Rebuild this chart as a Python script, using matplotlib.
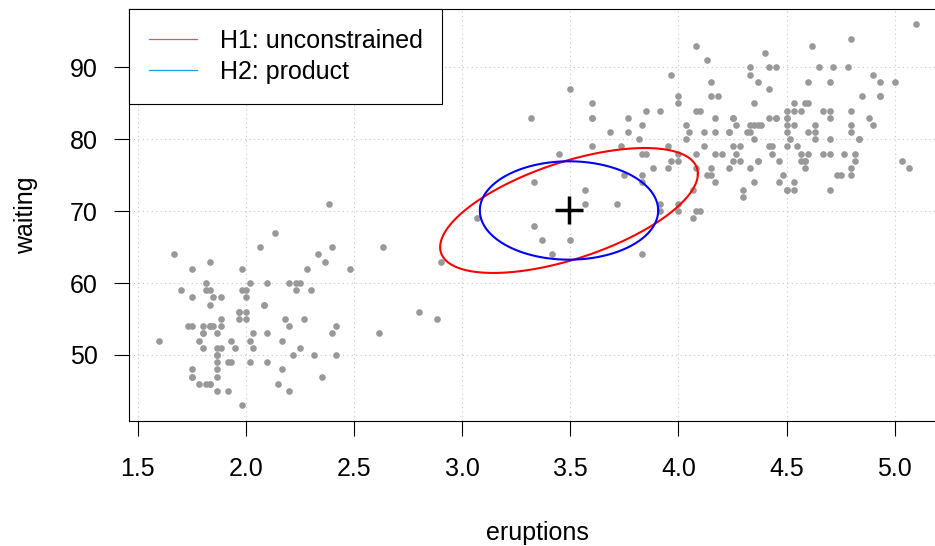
import numpy as np
import matplotlib
matplotlib.use("Agg")
import matplotlib.pyplot as plt
from matplotlib.lines import Line2D

plt.rcParams['font.family'] = ['Liberation Sans', 'DejaVu Sans']

# Old Faithful data (eruptions, waiting)
eruptions = [3.600, 1.800, 3.333, 2.283, 4.533, 2.883, 4.700, 3.600, 1.950, 4.350,
             1.833, 3.917, 4.200, 1.750, 4.700, 2.167, 1.750, 4.800, 1.600, 4.250,
             1.800, 1.750, 3.450, 3.067, 4.533, 3.600, 1.967, 4.083, 3.850, 4.433,
             4.300, 4.467, 3.367, 4.033, 3.833, 2.017, 1.867, 4.833, 1.833, 4.783,
             4.350, 1.883, 4.567, 1.750, 4.533, 3.317, 3.833, 2.100, 4.633, 2.000,
             4.800, 4.716, 1.833, 4.833, 1.733, 4.883, 3.717, 1.667, 4.567, 4.317,
             2.233, 4.500, 1.750, 4.800, 1.817, 4.400, 4.167, 4.700, 2.067, 4.700,
             4.033, 1.967, 4.500, 4.000, 1.983, 5.067, 2.017, 4.567, 3.883, 3.600,
             4.133, 4.333, 4.100, 2.633, 4.067, 4.933, 3.950, 4.517, 2.167, 4.000,
             2.200, 4.333, 1.867, 4.817, 1.833, 4.300, 4.667, 3.750, 1.867, 4.900,
             2.483, 4.367, 2.100, 4.500, 4.050, 1.867, 4.700, 1.783, 4.850, 3.683,
             4.733, 2.300, 4.900, 4.417, 1.700, 4.633, 2.317, 4.600, 1.817, 4.417,
             2.617, 4.067, 4.250, 1.967, 4.600, 3.767, 1.917, 4.500, 2.267, 4.650,
             1.867, 4.167, 2.800, 4.333, 1.833, 4.383, 1.883, 4.933, 2.033, 3.733,
             4.233, 2.233, 4.533, 4.817, 4.333, 1.983, 4.633, 2.017, 5.100, 1.800,
             5.033, 4.000, 2.400, 4.600, 3.567, 4.000, 4.500, 4.083, 1.800, 3.967,
             2.200, 4.150, 2.000, 3.833, 3.500, 4.583, 2.367, 5.000, 1.933, 4.617,
             1.917, 2.083, 4.583, 3.333, 4.167, 4.333, 4.500, 2.417, 4.000, 4.167,
             1.883, 4.583, 4.250, 3.767, 2.033, 4.433, 4.083, 1.833, 4.417, 2.183,
             4.800, 1.833, 4.800, 4.100, 3.966, 4.233, 3.500, 4.366, 2.250, 4.667,
             2.100, 4.350, 4.133, 1.867, 4.600, 1.783, 4.367, 3.850, 1.933, 4.500,
             2.383, 4.700, 1.867, 3.833, 3.417, 4.233, 2.400, 4.800, 2.000, 4.150,
             1.867, 4.267, 1.750, 4.483, 4.000, 4.117, 4.083, 4.267, 3.917, 4.550,
             4.083, 2.417, 4.183, 2.217, 4.450, 1.883, 1.850, 4.283, 3.950, 2.333,
             4.150, 2.350, 4.933, 2.900, 4.583, 3.833, 2.083, 4.367, 2.133, 4.350,
             2.200, 4.450, 3.567, 4.500, 4.150, 3.817, 3.917, 4.450, 2.000, 4.283,
             4.767, 4.533, 1.850, 4.250, 1.983, 2.250, 4.750, 4.117, 2.150, 4.417,
             1.817, 4.467]
waiting = [79, 54, 74, 62, 85, 55, 88, 85, 51, 85, 54, 84, 78, 47, 83, 52, 62, 84, 52, 79,
           51, 47, 78, 69, 74, 83, 55, 76, 78, 79, 73, 77, 66, 80, 74, 52, 48, 80, 59, 90,
           80, 58, 84, 58, 73, 83, 64, 53, 82, 59, 75, 90, 54, 80, 54, 83, 71, 64, 77, 81,
           59, 84, 48, 82, 60, 92, 78, 78, 65, 73, 82, 56, 79, 71, 62, 76, 60, 78, 76, 83,
           75, 82, 70, 65, 73, 88, 76, 80, 48, 86, 60, 90, 50, 78, 63, 72, 84, 75, 51, 82,
           62, 88, 49, 83, 81, 47, 84, 52, 86, 81, 75, 59, 89, 79, 59, 81, 50, 85, 59, 87,
           53, 69, 77, 56, 88, 81, 45, 82, 55, 90, 45, 83, 56, 89, 46, 82, 51, 86, 53, 79,
           81, 60, 82, 77, 76, 59, 80, 49, 96, 53, 77, 77, 65, 81, 71, 70, 81, 93, 53, 89,
           45, 86, 58, 78, 66, 76, 63, 88, 52, 93, 49, 57, 77, 68, 81, 81, 73, 50, 85, 74,
           55, 77, 83, 83, 51, 78, 84, 46, 83, 55, 81, 57, 76, 84, 77, 81, 87, 77, 51, 78,
           60, 82, 91, 53, 78, 46, 77, 84, 49, 83, 71, 80, 49, 75, 64, 76, 53, 94, 55, 76,
           50, 82, 54, 75, 78, 79, 78, 78, 70, 79, 70, 54, 86, 50, 90, 54, 54, 77, 79, 64,
           75, 47, 86, 63, 85, 82, 57, 82, 67, 74, 54, 83, 73, 73, 88, 80, 71, 83, 56, 79,
           78, 84, 58, 83, 43, 60, 75, 81, 46, 90, 46, 74]

# Ellipse parameters (center, covariance matrices)
center = [3.494, 70.1]
cov_h1 = [[0.355, 3.04], [3.04, 75.5]]     # H1: unconstrained
cov_h2 = [[0.170, 0.0], [0.0, 46.8]]       # H2: product
legend_labels = ["H1: unconstrained", "H2: product"]
legend_colors = ["#DF536B", "#2297E6"]
xticks = [1.5, 2.0, 2.5, 3.0, 3.5, 4.0, 4.5, 5.0]
yticks = [50, 60, 70, 80, 90]

FS = 18
W, H = 935, 546
fig = plt.figure(figsize=(W / 100, H / 100), dpi=100)
xlim = (1.46, 5.24)
ylim = (40.88, 98.12)
px_x = 216.3
px_y = 7.19
left_px = 137.7 - (1.5 - xlim[0]) * px_x
width_px = (xlim[1] - xlim[0]) * px_x
bottom_px = 355 + (50 - ylim[0]) * px_y
height_px = (ylim[1] - ylim[0]) * px_y
ax = fig.add_axes([left_px / W, 1 - bottom_px / H, width_px / W, height_px / H])
ax.set_xlim(*xlim)
ax.set_ylim(*ylim)

ax.set_xticks(xticks)
ax.set_xticklabels([f"{v:.1f}" for v in xticks])
ax.set_yticks(yticks)
ax.set_yticklabels([str(v) for v in yticks])
ax.tick_params(axis='both', direction='out', length=10.8, width=0.8, labelsize=FS, color='black')
ax.tick_params(axis='x', pad=15.5)
ax.tick_params(axis='y', pad=11.5)
ax.grid(True, linestyle=(0, (1, 3)), color='#C8C8C8', linewidth=0.8)
ax.set_axisbelow(True)
for s in ax.spines.values():
    s.set_linewidth(0.8)
    s.set_color('black')

ax.scatter(eruptions, waiting, s=23, color='#999999', linewidths=0, zorder=2)

t = np.linspace(0, 2 * np.pi, 400)
circ = np.vstack([np.cos(t), np.sin(t)])
for cov, col in [(cov_h1, 'red'), (cov_h2, 'blue')]:
    L = np.linalg.cholesky(np.array(cov))
    pts = L @ circ
    ax.plot(center[0] + pts[0], center[1] + pts[1], color=col, linewidth=1.5, zorder=3)

ax.plot([center[0]], [center[1]], marker='+', markersize=19.5, mew=2.5, color='black', zorder=4)

ax.set_xlabel("eruptions", fontsize=FS, labelpad=29)
ax.set_ylabel("waiting", fontsize=FS, labelpad=23)

handles = [Line2D([], [], color=c, linewidth=0.9) for c in legend_colors]
leg = ax.legend(handles, legend_labels, loc='upper left', bbox_to_anchor=(0, 1),
                borderaxespad=0, fontsize=FS, fancybox=False, framealpha=1,
                edgecolor='black', handlelength=1.92, handletextpad=0.92,
                borderpad=0.78, labelspacing=0.3)
leg.get_frame().set_linewidth(0.8)

fig.savefig("out.png", dpi=100)
